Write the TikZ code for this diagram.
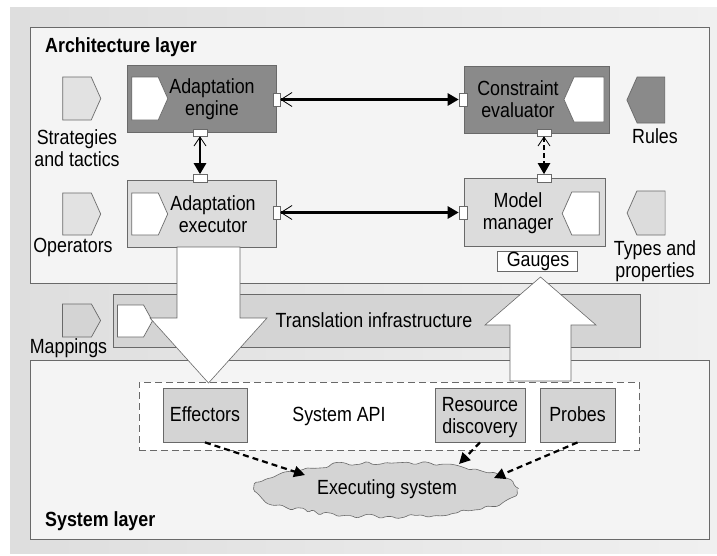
\documentclass[tikz,border=0pt]{standalone}
\usepackage{fontspec}
\setmainfont{Liberation Sans}[FakeStretch=0.87]
\usetikzlibrary{shapes.symbols,arrows.meta,decorations.pathmorphing}
\definecolor{dkgray}{RGB}{138,138,138}
\definecolor{ltgray}{RGB}{220,220,220}
\definecolor{pentgray}{RGB}{226,226,226}
\definecolor{midgray}{RGB}{212,212,212}
\definecolor{edge}{RGB}{105,105,105}
\definecolor{panel}{RGB}{244,244,244}
\definecolor{bgleft}{RGB}{222,222,222}
\definecolor{bgright}{RGB}{240,240,240}
\tikzset{
  box/.style={draw=edge, line width=0.8pt, rectangle, inner sep=0pt},
  port/.style={draw=edge, fill=white, line width=0.6pt, rectangle, inner sep=0pt},
  txt/.style={align=center, inner sep=0pt, font=\fontsize{20.5}{22}\selectfont},
  pent/.style={signal, draw=edge, line width=0.7pt, signal pointer angle=132, inner sep=0pt},
  conn/.style={line width=2.6pt},
  bigarrow/.style={fill=white, draw=edge, line width=0.6pt, line join=miter},
  dasharrow/.style={line width=2.2pt, dash pattern=on 6pt off 4pt, -{Triangle[length=11pt,width=11pt]}},
  cloudline/.style={draw=edge, line width=0.6pt, fill=midgray, decorate, decoration={random steps, segment length=6pt, amplitude=2.3pt}, rounded corners=1.5pt}
}
\begin{document}
\begin{tikzpicture}[x=1pt,y=-1pt]
\useasboundingbox (0,0) rectangle (717,555);
\pgfmathsetseed{7}
% background
\shade[left color=bgleft, right color=bgright] (10,7) rectangle (717,553);
% layers
\node[box, fill=panel, minimum width=679, minimum height=256, anchor=north west] (arch) at (30,27) {};
\node[box, fill=panel, minimum width=679, minimum height=179, anchor=north west] (sys) at (30,360) {};
\node[box, fill=midgray, minimum width=527, minimum height=53, anchor=north west] (trans) at (113,294) {};
% layer labels
\node[txt, anchor=base west] (archlbl) at (45,52.7) {\bfseries Architecture layer};
\node[txt, anchor=base west] (syslbl) at (45,526) {\bfseries System layer};
% side pentagons
\node[pent, fill=pentgray, signal to=east, minimum width=38, minimum height=43] (strat) at (77,98.5) {};
\node[pent, fill=pentgray, signal to=east, minimum width=38, minimum height=42] (oper) at (77,214) {};
\node[pent, fill=dkgray, signal to=west, minimum width=38, minimum height=46] (rules) at (651,100) {};
\node[pent, fill=ltgray, signal to=west, minimum width=38, minimum height=44] (types) at (651,213) {};
\node[pent, fill=midgray, signal to=east, signal pointer angle=122, minimum width=38, minimum height=33] (mapp) at (77,320.5) {};
\node[pent, fill=white, signal to=east, signal pointer angle=122, minimum width=35, minimum height=32] (transin) at (130.5,321) {};
\node[txt] (strattxt) at (77,148) {Strategies\\and tactics};
\node[txt, anchor=base] (opertxt) at (73,252.5) {Operators};
\node[txt, anchor=base] (rulestxt) at (655,143.3) {Rules};
\node[txt] (typestxt) at (655,261) {Types and\\properties};
\node[txt, anchor=base] (mapptxt) at (68.5,353) {Mappings};
\node[txt, anchor=base] (transtxt) at (374,327.3) {Translation infrastructure};
% main boxes
\node[box, fill=dkgray, minimum width=149, minimum height=67] (eng) at (201.5,98.5) {};
\node[box, fill=ltgray, minimum width=149, minimum height=67] (exe) at (201.5,213.5) {};
\node[box, fill=dkgray, minimum width=145, minimum height=67] (con) at (536.5,99.5) {};
\node[box, fill=ltgray, minimum width=141, minimum height=68] (mod) at (534.5,212) {};
% white pentagons in boxes
\node[pent, fill=white, signal to=east, minimum width=36, minimum height=43] (engin) at (145,98.5) {};
\node[pent, fill=white, signal to=east, minimum width=36, minimum height=42] (exein) at (145,214) {};
\node[pent, fill=white, signal to=west, minimum width=40, minimum height=45] (conin) at (589,99.5) {};
\node[pent, fill=white, signal to=west, minimum width=37, minimum height=43] (modin) at (585.5,213.5) {};
\node[txt] (engtxt) at (212,99) {Adaptation\\engine};
\node[txt] (exetxt) at (213,214) {Adaptation\\executor};
\node[txt] (contxt) at (518,99) {Constraint\\evaluator};
\node[txt] (modtxt) at (518,213) {Model\\manager};
% ports
\node[port, minimum width=7, minimum height=13] (engR) at (276.5,99.5) {};
\node[port, minimum width=14, minimum height=7] (engB) at (200,132.5) {};
\node[port, minimum width=14, minimum height=8] (exeT) at (200,178.5) {};
\node[port, minimum width=7, minimum height=13] (exeR) at (276.5,212.5) {};
\node[port, minimum width=8, minimum height=13] (conL) at (463,99.5) {};
\node[port, minimum width=14, minimum height=7] (conB) at (544,132.5) {};
\node[port, minimum width=14, minimum height=8] (modT) at (544,178.5) {};
\node[port, minimum width=8, minimum height=13] (modL) at (463,212.5) {};
% gauges
\node[box, fill=white, line width=0.7pt, minimum width=80, minimum height=20] (gauges) at (537,261) {};
\node[txt, anchor=base] (gaugestxt) at (538,266.7) {Gauges};
% connectors
\draw[conn, {Straight Barb[length=11pt,width=14pt,line width=0.8pt]}-{Triangle[length=11pt,width=12pt]}] (engR.east) -- (conL.west);
\draw[conn, {Straight Barb[length=11pt,width=14pt,line width=0.8pt]}-{Triangle[length=11pt,width=12pt]}] (exeR.east) -- (modL.west);
\draw[conn, {Straight Barb[length=9pt,width=12pt,line width=0.8pt]}-{Triangle[length=11pt,width=12pt]}] (engB.south) -- (exeT.north);
\draw[conn, line width=2.2pt, dash pattern=on 5pt off 3pt, {Straight Barb[length=9pt,width=12pt,line width=0.8pt]}-{Triangle[length=11pt,width=12pt]}] (conB.south) -- (modT.north);
% system API
\node[draw=edge, fill=white, line width=0.7pt, dash pattern=on 7pt off 4pt, minimum width=500, minimum height=68, inner sep=0pt] (api) at (389,416) {};
\node[txt, anchor=base] (apitxt) at (339,421.7) {System API};
\node[box, fill=midgray, minimum width=84, minimum height=54] (eff) at (205,415) {};
\node[txt, anchor=base] (efftxt) at (205,421.7) {Effectors};
\node[box, fill=midgray, minimum width=90, minimum height=54] (res) at (480,415) {};
\node[txt] (restxt) at (480,417.5) {Resource\\discovery};
\node[box, fill=midgray, minimum width=75, minimum height=54] (prb) at (577.5,415) {};
\node[txt, anchor=base] (prbtxt) at (577.5,421.7) {Probes};
% cloud
\path[cloudline] (386,489.5) ellipse [x radius=131, y radius=27];
\node[txt] (cloud) at (387,489.5) {Executing system};
\coordinate (c1) at (305,475);
\coordinate (c2) at (459,464);
\coordinate (c3) at (494,478);
\draw[dasharrow] (eff.south) -- (c1);
\draw[dasharrow] (res.south) -- (c2);
\draw[dasharrow] (prb.south) -- (c3);
% big arrows
\draw[bigarrow] (177,247) -- (240,247) -- (240,318) -- (267,318) -- (208.5,383) -- (150,318) -- (177,318) -- cycle;
\draw[bigarrow] (510,381) -- (510,325) -- (485,325) -- (540.5,277) -- (596,325) -- (571,325) -- (571,381) -- cycle;
\end{tikzpicture}
\end{document}
